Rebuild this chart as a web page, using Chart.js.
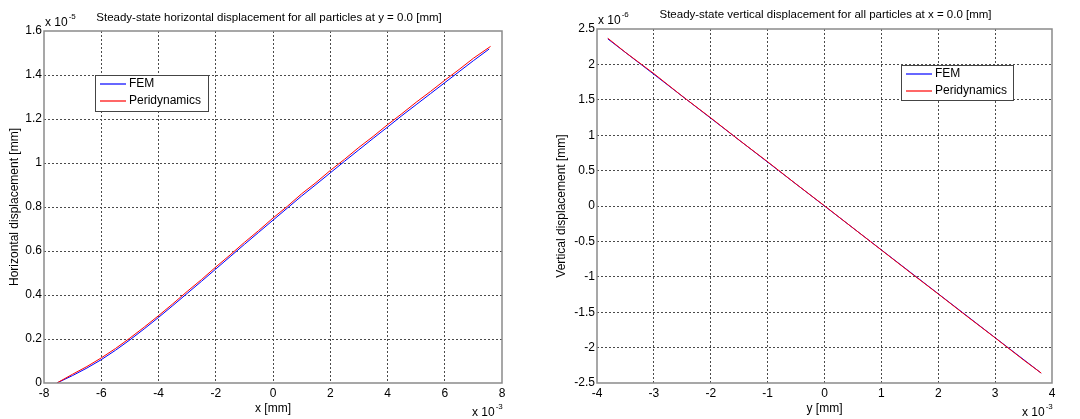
<!DOCTYPE html>
<html>
<head>
<meta charset="utf-8">
<script src="https://cdn.jsdelivr.net/npm/chart.js@4/dist/chart.umd.min.js"></script>
<style>
    html, body { margin: 0; padding: 0; background: #fff; }
    .panel { position: absolute; top: 0; width: 540px; height: 419px; }
    #left-panel { left: 0; }
    #right-panel { left: 540px; }
</style>
</head>
<body>
<div class="panel" id="left-panel"><canvas id="horizontalChart" width="540" height="419"></canvas></div>
<div class="panel" id="right-panel"><canvas id="verticalChart" width="540" height="419"></canvas></div>
<script>
// horizontal displacement along y = 0 (x in 1e-3 mm, u in 1e-5 mm)
const femX = [-7.55, -7, -6.5, -6, -5.5, -5, -4.5, -4, -3.5, -3, -2.5, -2, -1.5, -1, -0.5, 0,
    0.5, 1, 1.5, 2, 2.5, 3, 3.5, 4, 4.5, 5, 5.5, 6, 6.5, 7, 7.55];
const femU = [0, 0.034, 0.068, 0.106, 0.149, 0.196, 0.246, 0.298, 0.352, 0.407, 0.462, 0.518, 0.574, 0.63, 0.685, 0.74,
    0.795, 0.85, 0.902, 0.955, 1.008, 1.06, 1.112, 1.163, 1.215, 1.265, 1.315, 1.365, 1.415, 1.465, 1.518];
const periX = [-7.55, -7, -6.5, -6, -5.5, -5, -4.5, -4, -3.5, -3, -2.5, -2, -1.5, -1, -0.5, 0,
    0.5, 1, 1.5, 2, 2.5, 3, 3.5, 4, 4.5, 5, 5.5, 6, 6.5, 7, 7.6];
const periU = [0, 0.04, 0.075, 0.114, 0.157, 0.204, 0.254, 0.306, 0.36, 0.416, 0.47, 0.527, 0.582, 0.639, 0.693, 0.75,
    0.803, 0.86, 0.911, 0.966, 1.017, 1.071, 1.121, 1.174, 1.224, 1.276, 1.325, 1.376, 1.425, 1.476, 1.53];

// vertical displacement along x = 0 (y in 1e-3 mm, v in 1e-6 mm)
const femY = [-3.81, -3, -2, -1, 0, 1, 2, 3, 3.81];
const femV = [2.36, 1.86, 1.24, 0.62, 0, -0.62, -1.24, -1.86, -2.36];
const periY = [-3.81, -3.5, -3, -2.5, -2, -1.5, -1, -0.5, 0, 0.5, 1, 1.5, 2, 2.5, 3, 3.5, 3.81];
const periV = [2.37, 2.17, 1.87, 1.55, 1.245, 0.93, 0.625, 0.31, 0.003, -0.31, -0.622, -0.935, -1.243, -1.555, -1.862, -2.175, -2.36];

const seriesLabels = ["FEM", "Peridynamics"];
const seriesColors = ["#0000ff", "#ff0000"];

const FONT = '"Liberation Sans", Arial, sans-serif';

function toPoints(xs, ys) {
    return xs.map((x, i) => ({x: x, y: ys[i]}));
}

function tickText(value) {
    return String(Math.round(value * 10) / 10);
}

const decorPlugin = {
    id: 'decor',
    afterDraw(chart, args, opts) {
        const ctx = chart.ctx;
        const a = chart.chartArea;
        ctx.save();

        // axes box
        ctx.strokeStyle = '#8a8a8a';
        ctx.lineWidth = 1.5;
        ctx.strokeRect(a.left, a.top, a.right - a.left, a.bottom - a.top);

        ctx.fillStyle = '#000';
        ctx.textBaseline = 'alphabetic';

        // title
        ctx.font = '11.5px ' + FONT;
        ctx.textAlign = 'center';
        ctx.fillText(opts.title, (a.left + a.right) / 2 + opts.titleShift, opts.titleY);

        // exponent labels
        ctx.textAlign = 'left';
        const drawExp = (power, x, y) => {
            ctx.font = '12px ' + FONT;
            ctx.fillText('x 10', x, y);
            let w = ctx.measureText('x 10').width;
            ctx.font = '8px ' + FONT;
            ctx.fillText(power, x + w + 1, y - 7);
        };
        drawExp(opts.yPower, a.left + 1, a.top - 5);
        drawExp(opts.xPower, a.right - 30, a.bottom + 33);

        // legend
        const lg = opts.legend;
        ctx.fillStyle = '#fff';
        ctx.fillRect(lg.x, lg.y, lg.w, lg.h);
        ctx.strokeStyle = '#444';
        ctx.lineWidth = 1;
        ctx.strokeRect(lg.x + 0.5, lg.y + 0.5, lg.w, lg.h);
        ctx.font = '12px ' + FONT;
        ctx.textBaseline = 'middle';
        for (let i = 0; i < seriesLabels.length; i++) {
            let yy = lg.y + 9 + i * 17;
            ctx.strokeStyle = seriesColors[i];
            ctx.lineWidth = 1.2;
            ctx.beginPath();
            ctx.moveTo(lg.x + 5, yy);
            ctx.lineTo(lg.x + 31, yy);
            ctx.stroke();
            ctx.fillStyle = '#000';
            ctx.fillText(seriesLabels[i], lg.x + 34, yy);
        }

        ctx.restore();
    }
};

function gridColor(c) {
    const s = c.scale;
    if (c.tick && (c.tick.value === s.min || c.tick.value === s.max)) {
        return 'rgba(0,0,0,0)';
    }
    return '#4a4a4a';
}

function buildChart(canvasId, setup) {
    const ctx = document.getElementById(canvasId).getContext('2d');

    return new Chart(ctx, {
        type: 'line',
        data: {
            datasets: [
                {
                    label: seriesLabels[0],
                    data: toPoints(setup.femX, setup.femY),
                    borderColor: seriesColors[0],
                    borderWidth: 1,
                    pointRadius: 0,
                    tension: 0,
                    order: 1,
                },
                {
                    label: seriesLabels[1],
                    data: toPoints(setup.periX, setup.periY),
                    borderColor: seriesColors[1],
                    borderWidth: 1,
                    pointRadius: 0,
                    tension: 0,
                    order: 0,
                }
            ]
        },
        options: {
            responsive: false,
            animation: false,
            layout: {
                padding: {top: setup.top, right: setup.right, left: 0, bottom: 0}
            },
            plugins: {
                legend: {display: false},
                tooltip: {enabled: false},
                decor: setup.decor,
            },
            scales: {
                x: {
                    type: 'linear',
                    min: setup.xMin,
                    max: setup.xMax,
                    afterFit: (scale) => { scale.height = 36; },
                    ticks: {
                        stepSize: setup.xStep,
                        color: '#000',
                        padding: 3,
                        maxRotation: 0,
                        font: {family: FONT, size: 12},
                        callback: tickText,
                    },
                    grid: {color: gridColor, lineWidth: 1, drawTicks: false},
                    border: {display: false, dash: [2, 2]},
                    title: {
                        display: true,
                        text: setup.xTitle,
                        color: '#000',
                        font: {family: FONT, size: 12},
                        padding: {top: 0, bottom: 3},
                    }
                },
                y: {
                    type: 'linear',
                    min: setup.yMin,
                    max: setup.yMax,
                    afterFit: (scale) => { scale.width = setup.left; },
                    ticks: {
                        stepSize: setup.yStep,
                        color: '#000',
                        padding: 2,
                        font: {family: FONT, size: 12},
                        callback: tickText,
                    },
                    grid: {color: gridColor, lineWidth: 1, drawTicks: false},
                    border: {display: false, dash: [2, 2]},
                    title: {
                        display: true,
                        text: setup.yTitle,
                        color: '#000',
                        font: {family: FONT, size: 12},
                        padding: {top: setup.yTitlePad, bottom: 0},
                    }
                }
            }
        },
        plugins: [decorPlugin]
    });
}

buildChart('horizontalChart', {
    femX: femX, femY: femU, periX: periX, periY: periU,
    xMin: -8, xMax: 8, xStep: 2,
    yMin: 0, yMax: 1.6, yStep: 0.2,
    top: 31, right: 38, left: 44,
    xTitle: 'x [mm]',
    yTitle: 'Horizontal displacement [mm]',
    yTitlePad: 7,
    decor: {
        title: 'Steady-state horizontal displacement for all particles at y = 0.0 [mm]',
        titleShift: -4, titleY: 21,
        yPower: '-5', xPower: '-3',
        legend: {x: 95, y: 75, w: 113, h: 36},
    }
});

buildChart('verticalChart', {
    femX: femY, femY: femV, periX: periY, periY: periV,
    xMin: -4, xMax: 4, xStep: 1,
    yMin: -2.5, yMax: 2.5, yStep: 0.5,
    top: 29, right: 28, left: 57,
    xTitle: 'y [mm]',
    yTitle: 'Vertical displacement [mm]',
    yTitlePad: 14,
    decor: {
        title: 'Steady-state vertical displacement for all particles at x = 0.0 [mm]',
        titleShift: 1, titleY: 18,
        yPower: '-6', xPower: '-3',
        legend: {x: 361, y: 65, w: 112, h: 35},
    }
});
</script>
</body>
</html>
